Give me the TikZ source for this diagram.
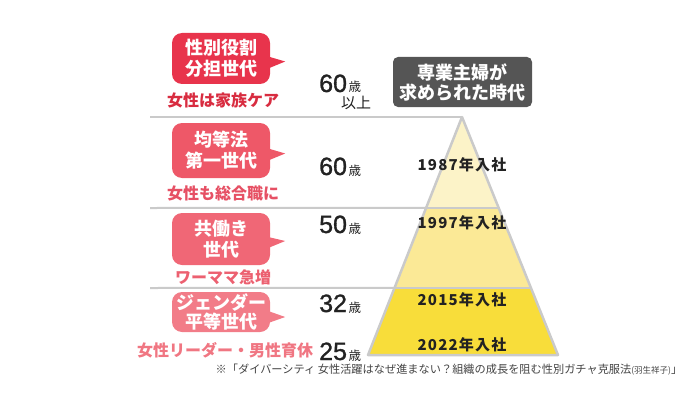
\documentclass[tikz,border=0pt]{standalone}
\usepackage{fontspec}
\setmainfont{Noto Sans CJK JP}
\newfontfamily\yearfont{Noto Sans CJK JP}[LetterSpace=8]
\newfontfamily\agefont{Liberation Sans}[FakeBold=1.2]
\usetikzlibrary{calc}
\definecolor{genred}{RGB}{232,52,76}
\definecolor{genrose}{RGB}{238,88,104}
\definecolor{genpink}{RGB}{240,103,118}
\definecolor{genpale}{RGB}{242,124,136}
\definecolor{subred}{RGB}{216,44,64}
\definecolor{subrose}{RGB}{230,80,100}
\definecolor{subpink}{RGB}{236,96,112}
\definecolor{subpale}{RGB}{240,118,130}
\definecolor{eraboxgray}{RGB}{85,85,85}
\definecolor{bandcream}{RGB}{252,243,200}
\definecolor{bandlight}{RGB}{251,233,150}
\definecolor{bandyellow}{RGB}{248,221,58}
\definecolor{rulegray}{RGB}{202,202,202}
\definecolor{inkblack}{RGB}{34,34,34}
\newcommand{\sai}[1]{{\agefont\fontsize{25}{25}\selectfont #1}\,{\fontsize{12.5}{12.5}\selectfont 歳}}

\begin{document}
\begin{tikzpicture}[x=1pt, y=-1pt,
  bubble/.style={rounded corners=10pt, minimum width=98pt, inner sep=0pt, text=white, align=center, font=\bfseries\fontsize{18}{21}\selectfont},
  subtxt/.style={font=\bfseries\fontsize{16}{16}\selectfont},
  agelbl/.style={anchor=base west, text=inkblack, inner sep=0pt},
  yearlbl/.style={text=inkblack, font=\yearfont\bfseries\fontsize{15}{15}\selectfont},
  rule/.style={rulegray, line width=2pt},
  pyr/.style={rulegray, line width=2.5pt, line join=round}
]
\useasboundingbox (0,0) rectangle (700,393);

\coordinate (apex) at (462,117);
\coordinate (bl) at (368,355);
\coordinate (br) at (558,355);
\coordinate (l1) at ($(apex)!0.382!(bl)$);
\coordinate (r1) at ($(apex)!0.382!(br)$);
\coordinate (l2) at ($(apex)!0.718!(bl)$);
\coordinate (r2) at ($(apex)!0.718!(br)$);
\coordinate (rule0) at (150,117);
\coordinate (rule1) at (150,208);
\coordinate (rule2) at (150,288);

\draw[rule] (rule0) -- (apex);
\draw[rule] (rule1) -- (l1);
\draw[rule] (rule2) -- (l2);

\fill[bandcream] (apex) -- (l1) -- (r1) -- cycle;
\fill[bandlight] (l1) -- (l2) -- (r2) -- (r1) -- cycle;
\fill[bandyellow] (l2) -- (bl) -- (br) -- (r2) -- cycle;
\draw[pyr] (apex) -- (bl) -- (br) -- cycle;
\draw[pyr] (l1) -- (r1) (l2) -- (r2);

\node[bubble, fill=genred, minimum height=51pt] (g1) at (221,58.5) {性別役割\\分担世代};
\fill[genred] ($(g1.east)+(-2,-2)$) -- ($(g1.east)+(15,3)$) -- ($(g1.east)+(-2,10)$) -- cycle;
\node[bubble, fill=genrose, minimum height=55pt] (g2) at (221,150.5) {均等法\\第一世代};
\fill[genrose] ($(g2.east)+(-2,-2)$) -- ($(g2.east)+(15,3)$) -- ($(g2.east)+(-2,10)$) -- cycle;
\node[bubble, fill=genpink, minimum height=52pt] (g3) at (221,239) {共働き\\世代};
\fill[genpink] ($(g3.east)+(-2,-2)$) -- ($(g3.east)+(15,2)$) -- ($(g3.east)+(-2,9)$) -- cycle;
\node[bubble, fill=genpale, minimum height=40pt, font=\bfseries\fontsize{18}{19}\selectfont] (g4) at (221,312) {ジェンダー\\平等世代};
\fill[genpale] ($(g4.east)+(-2,-1)$) -- ($(g4.east)+(15,5)$) -- ($(g4.east)+(-2,11)$) -- cycle;

\node[subtxt, text=subred] (s1) at (223,100) {女性は家族ケア};
\node[subtxt, text=subrose] (s2) at (223,193) {女性も総合職に};
\node[subtxt, text=subpink] (s3) at (223,277) {ワーママ急増};
\node[subtxt, text=subpale] (s4) at (225,350) {女性リーダー・男性育休};

\node[agelbl] (a1) at (319,92) {\sai{60}};
\node[text=inkblack, font=\fontsize{15}{15}\selectfont] (a1b) at (356,103) {以上};
\node[agelbl] (a2) at (319,175) {\sai{60}};
\node[agelbl] (a3) at (319,233) {\sai{50}};
\node[agelbl] (a4) at (319,312) {\sai{32}};
\node[agelbl] (a5) at (319,360) {\sai{25}};

\node[fill=eraboxgray, rounded corners=5pt, minimum width=139pt, minimum height=50pt, inner sep=0pt, text=white, align=center, font=\bfseries\fontsize{18}{20}\selectfont] (era) at (462.5,82) {専業主婦が\\求められた時代};

\node[yearlbl] (y1) at (462,165) {1987年入社};
\node[yearlbl] (y2) at (462,223) {1997年入社};
\node[yearlbl] (y3) at (462,300) {2015年入社};
\node[yearlbl] (y4) at (462,345) {2022年入社};

\node[text=inkblack!85, font=\fontsize{11.2}{11.2}\selectfont] (src) at (449,370) {※「ダイバーシティ 女性活躍はなぜ進まない？組織の成長を阻む性別ガチャ克服法{\fontsize{8.5}{8.5}\selectfont (羽生祥子)}」};
\end{tikzpicture}
\end{document}
